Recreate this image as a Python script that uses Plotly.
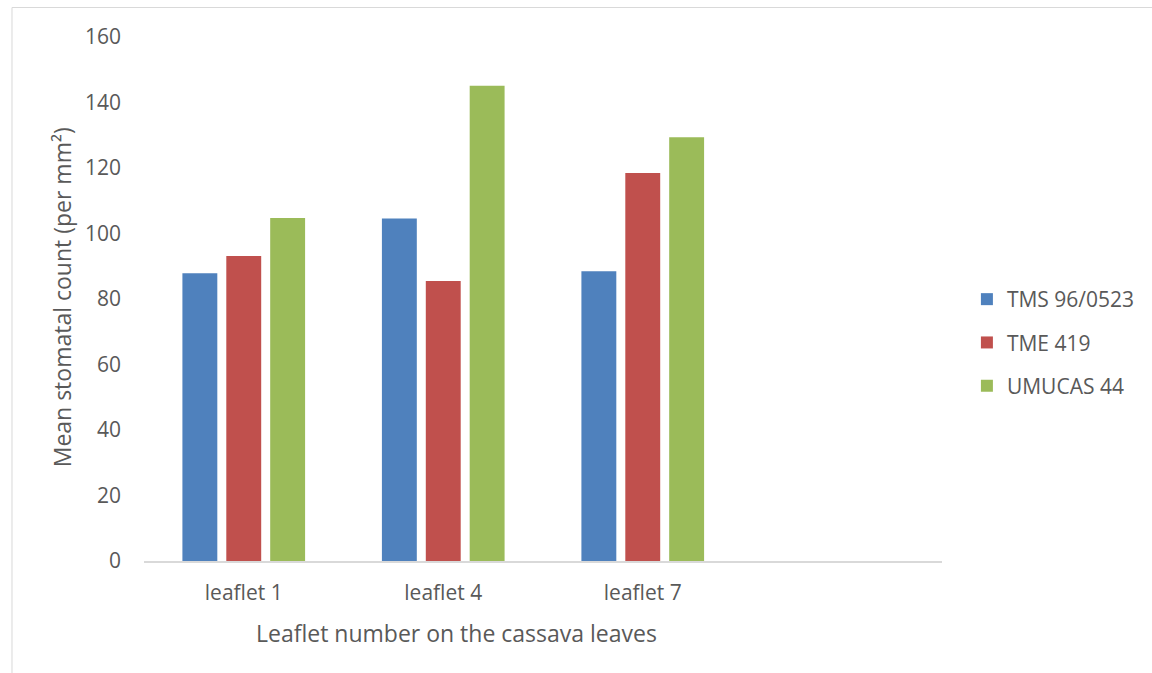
import plotly.graph_objects as go

categories = ["leaflet 1", "leaflet 4", "leaflet 7"]
series_names = ["TMS 96/0523", "TME 419", "UMUCAS 44"]
tms_96_0523 = [87.9, 104.6, 88.5]
tme_419 = [93.1, 85.5, 118.5]
umucas_44 = [104.7, 145.1, 129.4]
colors = ["#4F81BD", "#C0504D", "#9BBB59"]
y_ticks = [0, 20, 40, 60, 80, 100, 120, 140, 160]

W, H = 1152, 673
L, R, T, B = 144, 207, 37, 112
pw, ph = W - L - R, H - T - B

def px_x(p):
    return (p - L) / pw

def px_y(p):
    return (H - B - p) / ph

fig = go.Figure()
for i, (name, vals) in enumerate(zip(series_names, [tms_96_0523, tme_419, umucas_44])):
    fig.add_trace(go.Bar(x=categories, y=vals, name=name, marker_color=colors[i],
                         legendgroup=name, marker_line_width=0))

font_fam = "Open Sans, Lato, sans-serif"
txt = "#595959"
fig.update_layout(
    width=W, height=H,
    margin=dict(l=L, r=R, t=T, b=B),
    paper_bgcolor="white", plot_bgcolor="white",
    barmode="group", bargap=0.34, bargroupgap=0.205,
    font=dict(family=font_fam, color=txt, size=21),
    xaxis=dict(type="category", categoryorder="array", categoryarray=categories,
               range=[-0.5, 3.5], showgrid=False, showline=True, linecolor="#D9D9D9",
               linewidth=2, ticks="", ticklabelstandoff=12,
               tickfont=dict(size=21, color=txt)),
    yaxis=dict(range=[0, 160], tickvals=y_ticks, showgrid=False, zeroline=False,
               showline=False, ticks="", ticklabelstandoff=22,
               tickfont=dict(size=21, color=txt)),
    legend=dict(x=px_x(970), y=px_y(279), xanchor="left", yanchor="top",
                traceorder="grouped", tracegroupgap=13,
                font=dict(size=21, color=txt), itemwidth=30,
                bgcolor="rgba(0,0,0,0)"),
    showlegend=True,
)

fig.add_annotation(text="Leaflet number on the cassava leaves", xref="paper", yref="paper",
                   x=px_x(458), y=px_y(633), xanchor="center", yanchor="middle",
                   showarrow=False, font=dict(size=23, color=txt))
fig.add_annotation(text="Mean stomatal count (per mm²)", xref="paper", yref="paper",
                   x=px_x(62), y=px_y(297), xanchor="center", yanchor="middle",
                   textangle=-90, showarrow=False, font=dict(size=23, color=txt))

fig.add_shape(type="rect", xref="paper", yref="paper",
              x0=px_x(11.5), x1=px_x(1200), y0=px_y(7.5), y1=px_y(720),
              line=dict(color="#D9D9D9", width=1), fillcolor="rgba(0,0,0,0)", layer="below")

fig.write_html("out.html")
